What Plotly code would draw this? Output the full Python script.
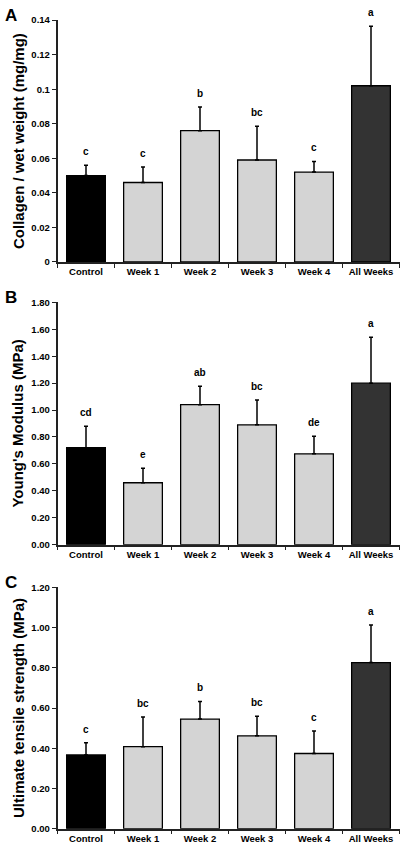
import plotly.graph_objects as go
from plotly.subplots import make_subplots

categories = ["Control", "Week 1", "Week 2", "Week 3", "Week 4", "All Weeks"]
bar_colors = ["#000000", "#d4d4d4", "#d4d4d4", "#d4d4d4", "#d4d4d4", "#333333"]

collagen = [0.050, 0.046, 0.076, 0.059, 0.052, 0.102]
collagen_err = [0.006, 0.009, 0.0137, 0.0195, 0.0062, 0.0345]
collagen_letters = ["c", "c", "b", "bc", "c", "a"]

modulus = [0.72, 0.46, 1.04, 0.89, 0.675, 1.20]
modulus_err = [0.16, 0.107, 0.137, 0.185, 0.13, 0.342]
modulus_letters = ["cd", "e", "ab", "bc", "de", "a"]

uts = [0.367, 0.408, 0.545, 0.462, 0.374, 0.826]
uts_err = [0.06, 0.148, 0.088, 0.097, 0.112, 0.187]
uts_letters = ["c", "bc", "b", "bc", "c", "a"]

panels = [
    ("A", "Collagen / wet weight (mg/mg)", collagen, collagen_err, collagen_letters, [0, 0.14], 0.02, ""),
    ("B", "Young's Modulus (MPa)", modulus, modulus_err, modulus_letters, [0, 1.8], 0.2, ".2f"),
    ("C", "Ultimate tensile strength (MPa)", uts, uts_err, uts_letters, [0, 1.2], 0.2, ".2f"),
]

W, H = 400, 849
# plot-area pixel boxes (top, bottom) for each panel
ybox = [(14.3, 259.3), (300.3, 545.7), (589.0, 833.5)]
x0, x1 = 57.5, 399.5

FONT = "Arial, Liberation Sans, sans-serif"

fig = make_subplots(rows=3, cols=1)
annotations = []
for i, (tag, title, vals, errs, letters, yr, dt, fmt) in enumerate(panels):
    r = i + 1
    fig.add_trace(
        go.Bar(
            x=categories,
            y=vals,
            marker=dict(color=bar_colors, line=dict(color="#000000", width=1.3)),
            error_y=dict(
                type="data",
                symmetric=False,
                array=errs,
                arrayminus=[0] * len(errs),
                color="#000000",
                thickness=1.5,
                width=2,
            ),
            showlegend=False,
            hoverinfo="x+y",
        ),
        row=r,
        col=1,
    )
    top, bot = ybox[i]
    dom = [(H - bot) / H, (H - top) / H]
    xn = "xaxis" if r == 1 else f"xaxis{r}"
    yn = "yaxis" if r == 1 else f"yaxis{r}"
    fig.layout[xn].update(
        domain=[x0 / W, x1 / W],
        showline=True,
        linecolor="#222222",
        linewidth=1.5,
        ticks="outside",
        tickson="boundaries",
        ticklen=4,
        tickcolor="#222222",
        tickwidth=1.2,
        showgrid=False,
        tickfont=dict(family=FONT, size=9.5, color="#000000", weight="bold"),
    )
    fig.layout[yn].update(
        domain=dom,
        range=yr,
        dtick=dt,
        tick0=0,
        tickformat=fmt,
        showline=True,
        linecolor="#222222",
        linewidth=1.5,
        ticks="outside",
        ticklen=4,
        tickcolor="#222222",
        tickwidth=1.2,
        showgrid=False,
        zeroline=False,
        tickfont=dict(family=FONT, size=9.5, color="#000000", weight="bold"),
    )
    xref = "x" if r == 1 else f"x{r}"
    yref = "y" if r == 1 else f"y{r}"
    for c, v, e, lt in zip(categories, vals, errs, letters):
        annotations.append(
            dict(
                x=c, y=v + e, xref=xref, yref=yref, text=lt, showarrow=False,
                yanchor="bottom", yshift=6,
                font=dict(family=FONT, size=10, color="#000000", weight="bold"),
            )
        )
    # y-axis title
    annotations.append(
        dict(
            x=18 / W, y=(dom[0] + dom[1]) / 2, xref="paper", yref="paper",
            text=title, textangle=-90, showarrow=False,
            xanchor="center", yanchor="middle",
            font=dict(family=FONT, size=15, color="#000000", weight="bold"),
        )
    )
    # panel letter
    annotations.append(
        dict(
            x=11 / W, y=(H - (top - 5)) / H, xref="paper", yref="paper",
            text=tag, showarrow=False, xanchor="center", yanchor="middle",
            font=dict(family=FONT, size=17, color="#000000", weight="bold"),
        )
    )

fig.update_layout(
    width=W,
    height=H,
    margin=dict(l=0, r=0, t=0, b=0),
    paper_bgcolor="white",
    plot_bgcolor="white",
    bargap=0.32,
    annotations=annotations,
    font=dict(family=FONT),
)

fig.write_html(
    "out.html",
    config={"displayModeBar": False},
    post_script="document.body.style.margin='0';document.body.style.overflow='hidden';",
)
